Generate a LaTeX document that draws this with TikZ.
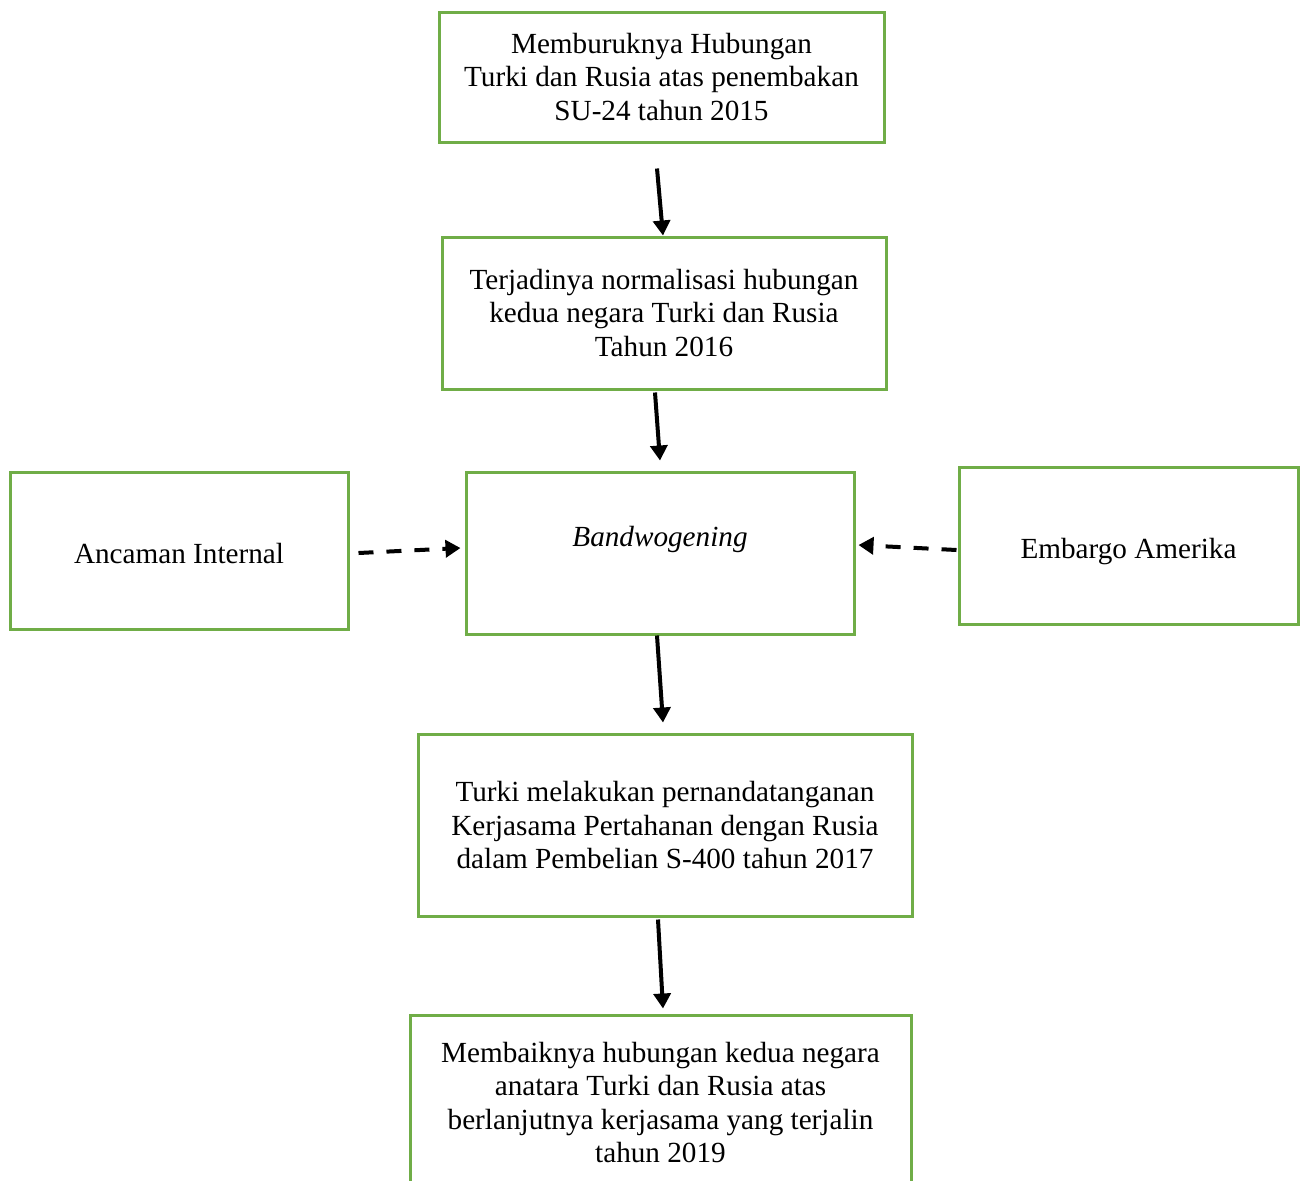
\documentclass[tikz,border=0pt]{standalone}
\usepackage{fontspec}
\setmainfont{Liberation Serif}
\usetikzlibrary{arrows.meta,calc}
\definecolor{boxgreen}{HTML}{70AD47}
\begin{document}
\begin{tikzpicture}[x=0.5pt,y=-0.5pt,
  box/.style={draw=boxgreen,line width=1.5pt,rectangle,align=center,inner sep=0pt,
    font=\fontsize{14.6}{16.8}\selectfont},
  arr/.style={line width=2pt,-{Triangle[length=7.5pt,width=8.5pt]}},
  darr/.style={arr,dash pattern=on 7.5pt off 6.5pt}]
\useasboundingbox (0,0) rectangle (1303,1180);
\node[box,minimum width=222.5pt,minimum height=65pt] (b1) at (661.5,77)
  {Memburuknya Hubungan\\Turki dan Rusia atas penembakan\\SU-24 tahun 2015};
\node[box,minimum width=222pt,minimum height=76pt] (b2) at (664,313)
  {Terjadinya normalisasi hubungan\\kedua negara Turki dan Rusia\\Tahun 2016};
\node[box,minimum width=194pt,minimum height=81pt] (b3) at (660,553)
  {\textit{Bandwogening}\\\mbox{}};
\node[box,minimum width=169pt,minimum height=78.5pt,text height=13pt,text depth=0pt] (b4) at (179,550.5)
  {Ancaman Internal};
\node[box,minimum width=169.5pt,minimum height=78.5pt,text height=12.5pt,text depth=0pt] (b5) at (1128.5,545.5)
  {Embargo Amerika};
\node[box,minimum width=247pt,minimum height=91pt] (b6) at (665,825)
  {Turki melakukan pernandatanganan\\Kerjasama Pertahanan dengan Rusia\\dalam Pembelian S-400 tahun 2017};
\node[box,minimum width=250.5pt,minimum height=87.5pt] (b7) at (660.5,1102.5)
  {Membaiknya hubungan kedua negara\\anatara Turki dan Rusia atas\\berlanjutnya kerjasama yang terjalin\\tahun 2019};
\draw[arr] ($(b1.south)+(-4.5,25)$) -- ($(b2.north)+(-1,0)$);
\draw[arr] ($(b2.south)+(-9,2)$) -- ($(b3.north)+(0,-10)$);
\draw[arr] ($(b3.south)+(-3,0)$) -- ($(b6.north)+(-2,-10)$);
\draw[arr] ($(b6.south)+(-7,2)$) -- ($(b7.north)+(2.5,-5)$);
\draw[darr] ($(b4.east)+(9,2.5)$) -- ($(b3.west)+(-4,-5)$);
\draw[darr] ($(b5.west)+(-1,4.5)$) -- ($(b3.east)+(3,-8)$);
\end{tikzpicture}
\end{document}
